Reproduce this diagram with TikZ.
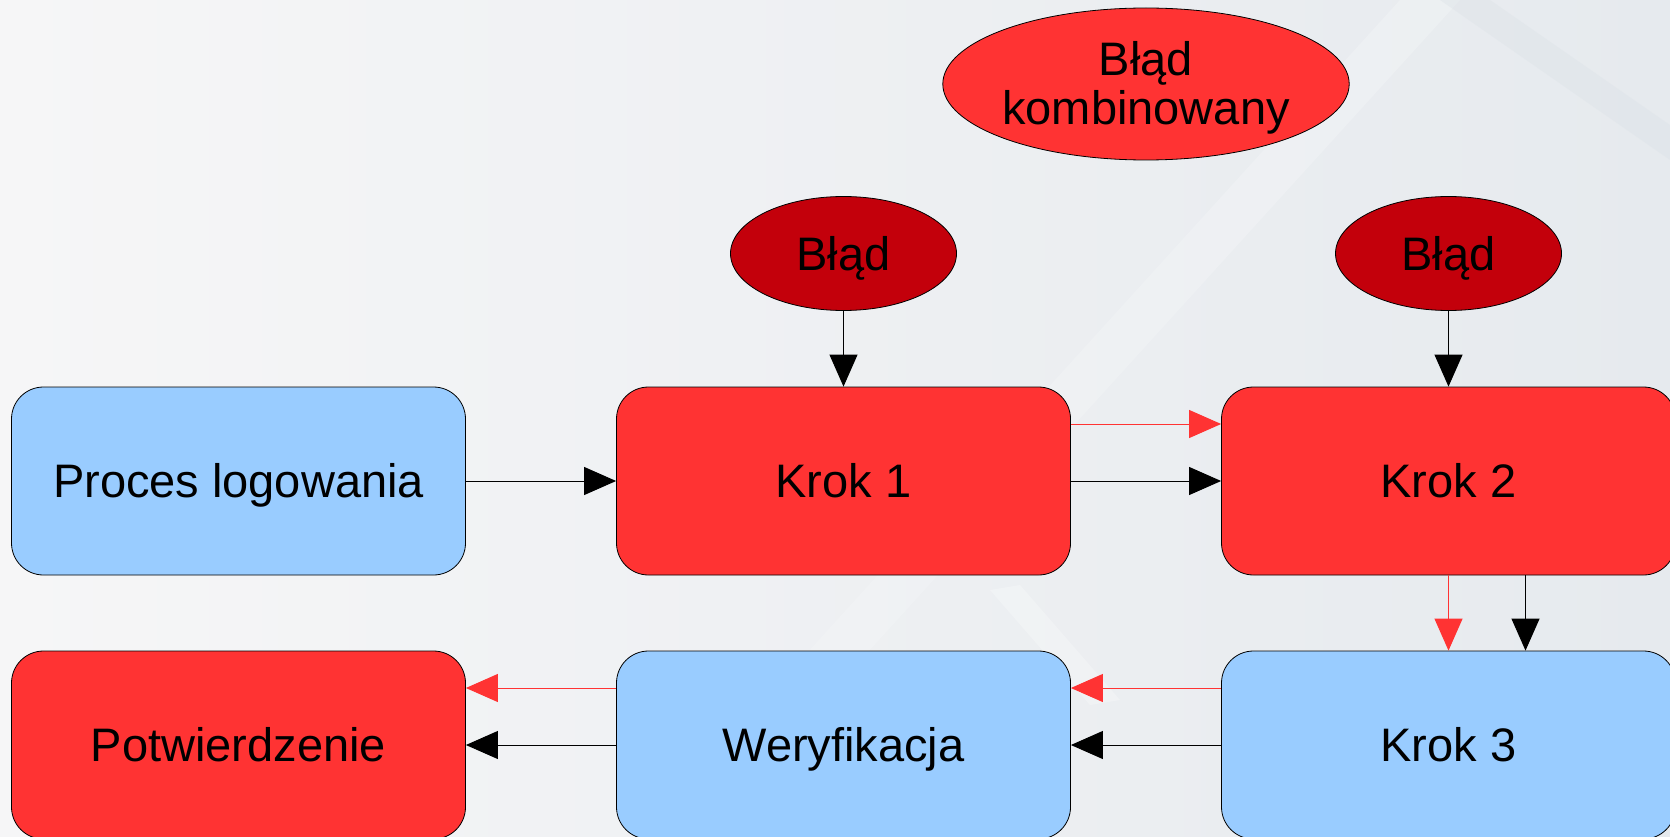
\documentclass[tikz,border=0pt]{standalone}
\usepackage{fontspec}
\setmainfont{Liberation Sans}
\usetikzlibrary{arrows.meta,shapes.geometric}
\definecolor{boxblue}{HTML}{99CCFF}
\definecolor{boxred}{HTML}{FF3333}
\definecolor{darkred}{HTML}{C3000B}
\definecolor{bgA}{HTML}{F6F6F7}
\definecolor{bgB}{HTML}{E6EAEE}
\definecolor{bgband}{HTML}{F3F5F7}
\definecolor{bgline}{HTML}{DDE3E8}
\tikzset{
  lbl/.style={font=\fontsize{47}{49}\selectfont},
  box/.style={lbl, draw=black, line width=0.8pt, rounded corners=32pt, minimum width=454pt, minimum height=188pt, inner sep=0pt, text height=33.7pt, text depth=0pt},
  bluebox/.style={box, fill=boxblue},
  redbox/.style={box, fill=boxred},
  err/.style={lbl, draw=black, line width=0.8pt, ellipse, inner sep=0pt, fill=darkred, minimum width=226pt, minimum height=114pt, text height=33.7pt, text depth=0pt},
  comb/.style={lbl, draw=black, line width=0.8pt, ellipse, inner sep=0pt, fill=boxred, minimum width=378pt, minimum height=152pt, align=center, text depth=3pt},
  arr/.style={draw=black, line width=1pt, -{Triangle[length=32pt,width=28pt]}},
  rarr/.style={draw=boxred, line width=1pt, -{Triangle[length=32pt,width=28pt]}}
}
\begin{document}
\begin{tikzpicture}[x=1pt,y=-1pt]
\useasboundingbox (0,0) rectangle (1670,837);
\clip (0,0) rectangle (1670,837);
\shade[left color=bgA, right color=bgB] (0,0) rectangle (1670,837);
% faint background bands
\fill[bgband, opacity=0.45] (1400,0) -- (1460,0) -- (700,837) -- (640,837) -- cycle;
\fill[bgline, opacity=0.45] (1440,0) -- (1490,0) -- (1670,125) -- (1670,160) -- cycle;
\fill[white, opacity=0.25] (990,590) -- (1020,585) -- (1120,700) -- (1090,705) -- cycle;

\node[comb] (bk) at (1146,84) {Błąd\\kombinowany};
\node[err] (b1) at (843.5,253.5) {Błąd};
\node[err] (b2) at (1448.5,253.5) {Błąd};

\node[bluebox] (p) at (238.5,481) {Proces logowania};
\node[redbox] (k1) at (843.5,481) {Krok 1};
\node[redbox] (k2) at (1448.5,481) {Krok 2};
\node[redbox] (pt) at (238.5,745) {Potwierdzenie};
\node[bluebox] (w) at (843.5,745) {Weryfikacja};
\node[bluebox] (k3) at (1448.5,745) {Krok 3};

\draw[arr] (b1) -- (k1);
\draw[arr] (b2) -- (k2);
\draw[arr] (p) -- (k1);
\draw[arr] (k1) -- (k2);
\draw[rarr] ([yshift=57pt]k1.east) -- ([yshift=57pt]k2.west);
\draw[rarr] (k2) -- (k3);
\draw[arr] ([xshift=77pt]k2.south) -- ([xshift=77pt]k3.north);
\draw[arr] (k3) -- (w);
\draw[rarr] ([yshift=57pt]k3.west) -- ([yshift=57pt]w.east);
\draw[arr] (w) -- (pt);
\draw[rarr] ([yshift=57pt]w.west) -- ([yshift=57pt]pt.east);
\end{tikzpicture}
\end{document}
